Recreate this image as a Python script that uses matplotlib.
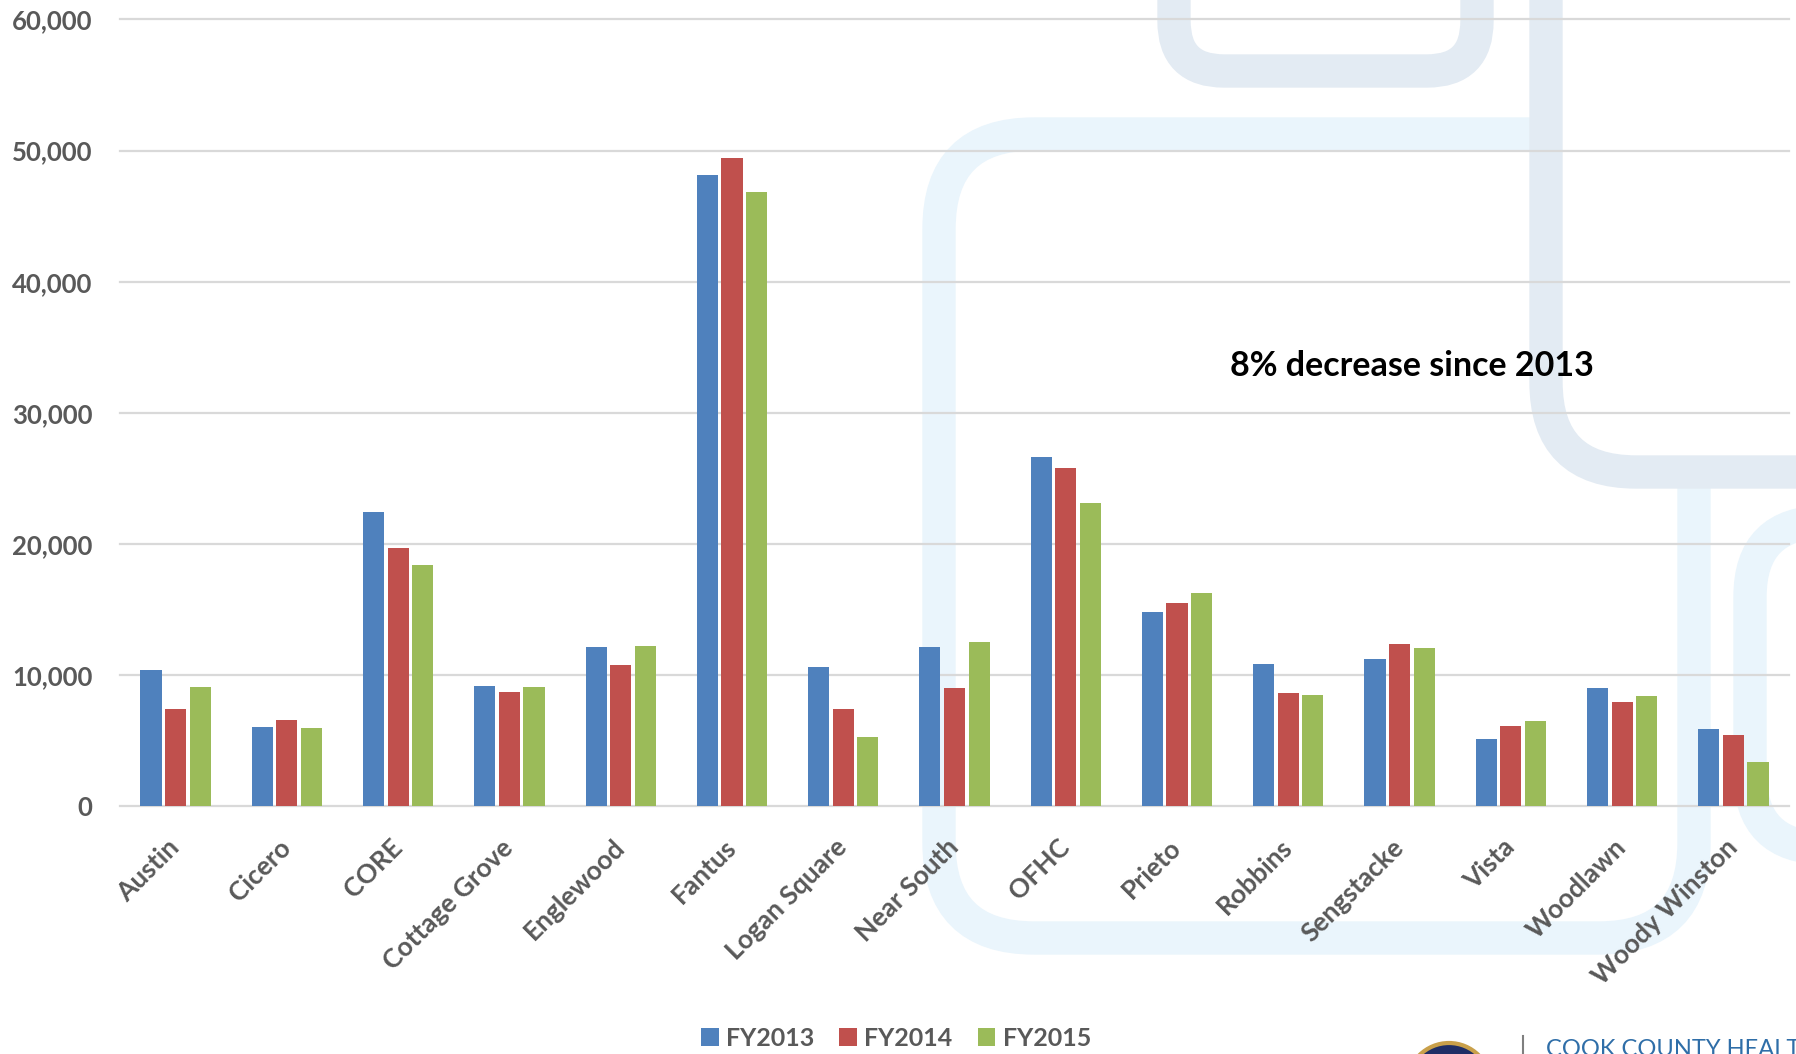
import matplotlib
matplotlib.use("Agg")
import numpy as np
from matplotlib import pyplot as plt
from matplotlib.patches import FancyBboxPatch, Patch, Circle
from matplotlib.transforms import IdentityTransform
from matplotlib.ticker import FuncFormatter

# visites par clinique, exercices 2013-2015
cliniques = ["Austin", "Cicero", "CORE", "Cottage Grove", "Englewood", "Fantus",
             "Logan Square", "Near South", "OFHC", "Prieto", "Robbins",
             "Sengstacke", "Vista", "Woodlawn", "Woody Winston"]
fy2013 = [10400, 6030, 22400, 9150, 12150, 48150, 10600, 12150, 26650, 14800,
          10850, 11250, 5100, 9000, 5900]
fy2014 = [7430, 6580, 19650, 8680, 10720, 49450, 7420, 8980, 25750, 15450,
          8600, 12330, 6070, 7920, 5400]
fy2015 = [9080, 5970, 18350, 9050, 12220, 46820, 5250, 12500, 23100, 16250,
          8450, 12050, 6520, 8360, 3330]
series = ["FY2013", "FY2014", "FY2015"]
couleurs = ["#4f81bd", "#c0504d", "#9bbb59"]
note = "8% decrease since 2013"

W, H = 1796, 1054
plt.rcParams["font.family"] = ["Lato", "DejaVu Sans"]
fig = plt.figure(figsize=(W / 100, H / 100), dpi=100)
fig.patch.set_facecolor("white")

# cadres arrondis du fond (coordonnees en pixels, y depuis le haut)
def cadre(x0, y0, x1, y1, r, couleur, fond="none", z=-3):
    p = FancyBboxPatch((x0, H - y1), x1 - x0, y1 - y0,
                       boxstyle="round,pad=0,rounding_size=%d" % r,
                       transform=IdentityTransform(), facecolor=fond,
                       edgecolor=couleur, linewidth=24, zorder=z)
    fig.add_artist(p)

bleu_clair = "#eaf5fc"
gris_bleu = "#e3ebf3"
cadre(939, 134, 1694, 938, 95, bleu_clair, z=-5)
cadre(1750, 522, 1900, 848, 75, bleu_clair, z=-5)
cadre(1546, -200, 1950, 472, 90, gris_bleu, fond="white", z=-4)
cadre(1174, -200, 1477, 71, 50, gris_bleu, fond="white", z=-3)

ax = fig.add_axes([120 / W, 248 / H, (1789 - 120) / W, 786.5 / H])
ax.set_facecolor("none")

x = np.arange(len(cliniques))
largeur = 0.19
ecart = 0.221
for i, (vals, c) in enumerate(zip([fy2013, fy2014, fy2015], couleurs)):
    ax.bar(x + (i - 1) * ecart, vals, width=largeur, color=c, zorder=3)

ax.set_xlim(-0.5, len(cliniques) - 0.5)
ax.set_ylim(0, 60000)
ax.set_yticks(range(0, 60001, 10000))
ax.yaxis.set_major_formatter(FuncFormatter(lambda v, p: "{:,.0f}".format(v)))
ax.grid(axis="y", color="#d9d9d9", linewidth=1.6, zorder=0)
for gl in ax.get_ygridlines():
    gl.set_clip_on(False)
for s in ax.spines.values():
    s.set_visible(False)
ax.axhline(0, color="#d9d9d9", linewidth=2, zorder=1)

gris = "#595959"
ax.tick_params(axis="y", length=0, pad=20, labelsize=18.5, labelcolor=gris)
ax.tick_params(axis="x", length=0, pad=27, labelsize=19, labelcolor=gris)
for lab in ax.get_yticklabels():
    lab.set_fontweight("bold")
ax.set_xticks(x)
ax.set_xticklabels(cliniques, rotation=45, ha="right", va="center",
                   rotation_mode="anchor", fontweight="bold")

fig.text(1412 / W, 1 - 366 / H, note, ha="center", va="center",
         fontsize=24.5, fontweight="bold", color="black")

poignees = [Patch(facecolor=c, edgecolor="none") for c in couleurs]
fig.legend(poignees, series, loc="center", bbox_to_anchor=(896 / W, 1 - 1038 / H),
           ncol=3, frameon=False, handlelength=0.7, handleheight=0.7,
           handletextpad=0.3, columnspacing=1.0,
           prop={"size": 18, "weight": "bold"}, labelcolor=gris)

# logo en bas a droite
sceau = Circle((1449, H - 1085), 42, transform=IdentityTransform(),
               facecolor="#1f2e66", edgecolor="#c9a04a", linewidth=3, zorder=2)
fig.add_artist(sceau)
fig.add_artist(plt.Line2D([1523, 1523], [0, H - 1036], transform=IdentityTransform(),
                          color="#7f7f7f", linewidth=1.5))
fig.text(1546 / W, 1 - 1039 / H, "COOK COUNTY HEALTH", ha="left", va="top",
         fontsize=17, color="#2f6ea8")

fig.savefig("out.png", dpi=100)
